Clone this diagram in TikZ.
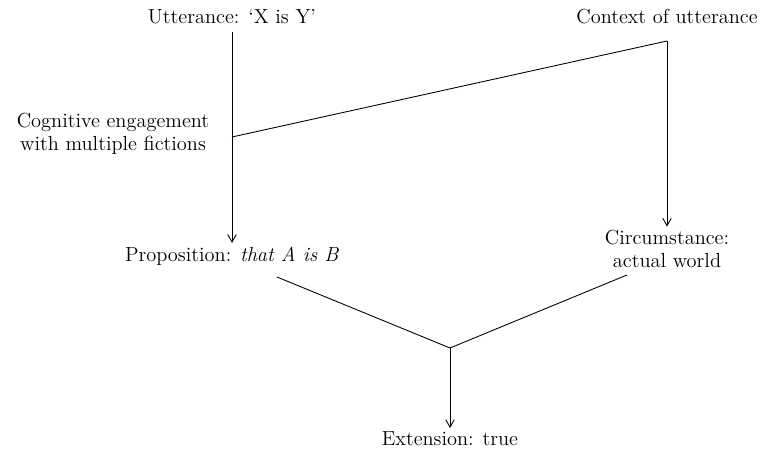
\documentclass[tikz,border=0pt]{standalone}
\usetikzlibrary{arrows.meta,calc}

\begin{document}
\begin{tikzpicture}[x=0.02cm, y=-0.02cm,
  lbl/.style={align=center, inner sep=2pt, font=\fontsize{11.6}{12.8}\selectfont},
  arr/.style={-{Straight Barb[length=1.5mm, width=1.7mm]}, line width=0.5pt},
  ln/.style={line width=0.5pt}
]
\useasboundingbox (0,0) rectangle (764,452);

\node[lbl] (utter) at (232,17) {Utterance: `X is Y'};
\node[lbl] (ctx) at (667,17) {Context of utterance};
\node[lbl] (cog) at (113,134) {Cognitive engagement\\with multiple fictions};
\node[lbl] (prop) at (232,256) {Proposition: \textit{that A is B}};
\node[lbl] (circ) at (667,249) {Circumstance:\\actual world};
\node[lbl] (ext) at (450,439) {Extension: true};

\coordinate (branch) at (232,137);
\coordinate (ctxtop) at (667,41);
\coordinate (pfoot) at (277,277);
\coordinate (cfoot) at (627,275);
\coordinate (meet) at (450,348);

\draw[arr, shorten <=2pt] (utter) -- (prop);
\draw[arr] (ctxtop) -- (circ);
\draw[ln] (branch) -- (ctxtop);
\draw[ln] (pfoot) -- (meet) -- (cfoot);
\draw[arr] (meet) -- (ext);

\end{tikzpicture}
\end{document}
